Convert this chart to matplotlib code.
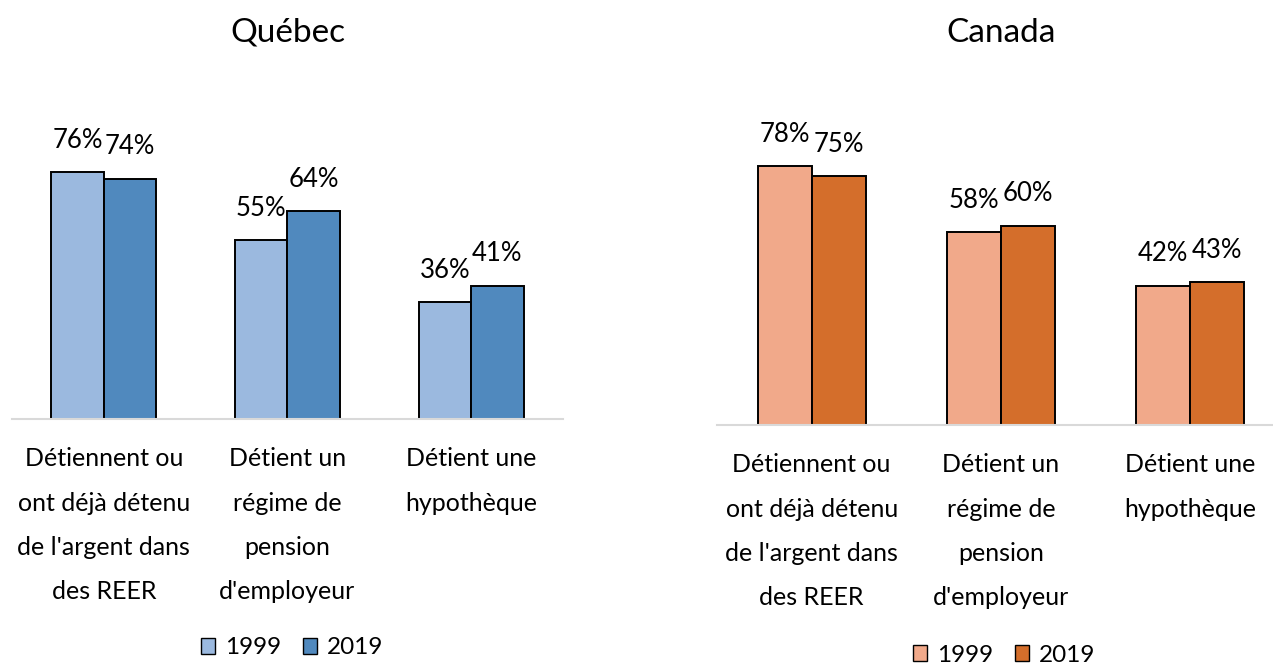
import numpy as np
import matplotlib
matplotlib.use("Agg")
import matplotlib.pyplot as plt
from matplotlib.patches import Patch

plt.rcParams['font.family'] = ['Lato', 'DejaVu Sans']

# data
categories = [
    ["Détiennent ou", "ont déjà détenu", "de l'argent dans", "des REER"],
    ["Détient un", "régime de", "pension", "d'employeur"],
    ["Détient une", "hypothèque"],
]
years = ["1999", "2019"]
quebec_1999 = [76, 55, 36]
quebec_2019 = [74, 64, 41]
canada_1999 = [78, 58, 42]
canada_2019 = [75, 60, 43]

W, H = 1273, 664
fig = plt.figure(figsize=(W / 100, H / 100), dpi=100)


def px_axes(x0, x1, ybase, ytop):
    return fig.add_axes([x0 / W, (H - ybase) / H, (x1 - x0) / W, (ybase - ytop) / H])


def draw_panel(ax, v1, v2, c1, c2, title, title_x, leg_x, leg_y):
    x = np.arange(len(v1))
    w = 0.286
    b1 = ax.bar(x - w / 2, v1, w, color=c1, edgecolor='black', linewidth=1.4)
    b2 = ax.bar(x + w / 2, v2, w, color=c2, edgecolor='black', linewidth=1.4)
    for bars, vals in [(b1, v1), (b2, v2)]:
        for b, v in zip(bars, vals):
            ax.annotate(f"{v}%", (b.get_x() + b.get_width() / 2, v),
                        xytext=(0, 23), textcoords='offset points',
                        ha='center', va='center', fontsize=18.5)
    ax.set_xlim(-0.5, 2.5)
    ax.set_ylim(0, 100)
    for s in ['top', 'left', 'right']:
        ax.spines[s].set_visible(False)
    ax.spines['bottom'].set_color('#D9D9D9')
    ax.spines['bottom'].set_linewidth(1.5)
    ax.set_xticks([])
    ax.set_yticks([])
    # category labels, one line at a time
    for i, lines in enumerate(categories):
        for j, line in enumerate(lines):
            ax.annotate(line, (i, 0), xytext=(0, -28.5 - 32 * j),
                        textcoords='offset points', ha='center', va='center',
                        fontsize=18, annotation_clip=False)
    fig.text(title_x / W, 1 - 33 / H, title, ha='center', va='center', fontsize=24)
    handles = [Patch(facecolor=c1, edgecolor='black', label=years[0]),
               Patch(facecolor=c2, edgecolor='black', label=years[1])]
    fig.legend(handles=handles, loc='center', ncol=2, frameon=False,
               bbox_to_anchor=(leg_x / W, 1 - leg_y / H), fontsize=17.5,
               handlelength=0.6, handleheight=0.6, handletextpad=0.4,
               columnspacing=0.9)


ax1 = px_axes(12, 563, 419, 94)
draw_panel(ax1, quebec_1999, quebec_2019, '#9BB9DF', '#5089BE', 'Québec', 288, 292, 648)

ax2 = px_axes(717, 1285, 425, 93)
draw_panel(ax2, canada_1999, canada_2019, '#F1A98A', '#D46E2B', 'Canada', 1001, 1004, 655)

fig.savefig('out.png', dpi=100)
